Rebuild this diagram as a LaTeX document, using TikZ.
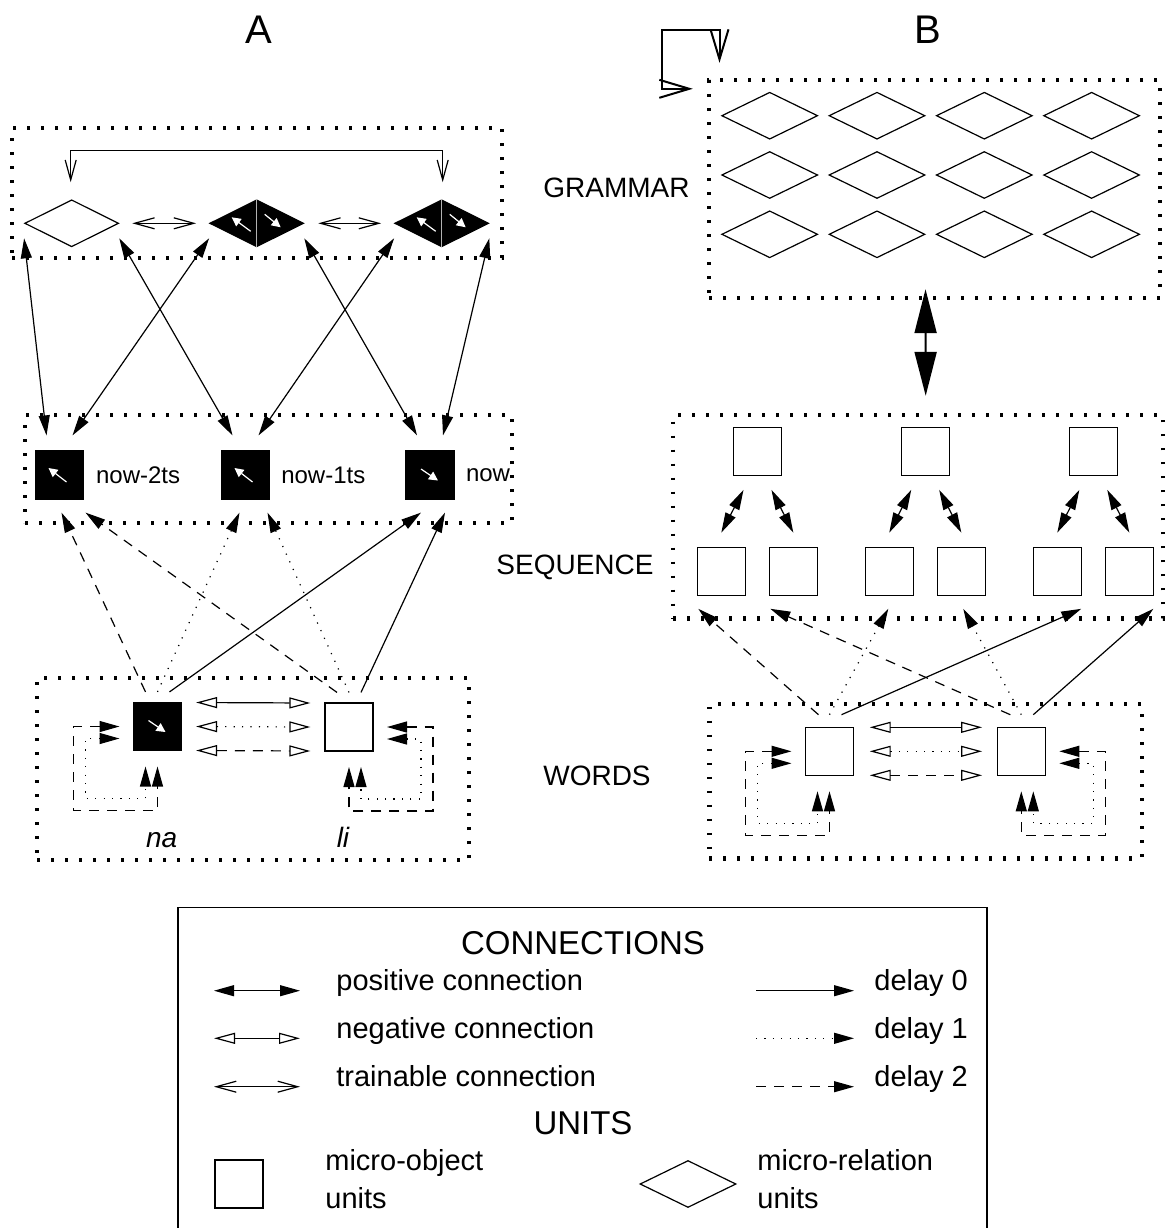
\documentclass[tikz,border=0pt]{standalone}
\usepackage{fontspec}
\setmainfont{Liberation Sans}
\usetikzlibrary{arrows.meta,shapes.geometric,positioning}

\begin{document}
\begin{tikzpicture}
  [x=0.5pt, y=-0.5pt,
   layer/.style={draw, line width=2.2pt, dash pattern=on 1.3pt off 5.7pt, inner sep=0pt},
   obj/.style={rectangle, draw, line width=0.6pt, minimum size=24pt, inner sep=0pt},
   rel/.style={diamond, draw, line width=0.6pt, minimum width=47pt, minimum height=23.5pt, inner sep=0pt},
   lit/.style={fill=black},
   posc/.style={line width=0.6pt, arrows={Triangle[length=10pt,width=5.5pt]-Triangle[length=10pt,width=5.5pt]}},
   bigposc/.style={line width=1pt, arrows={Triangle[length=22pt,width=11pt]-Triangle[length=22pt,width=11pt]}},
   negc/.style={line width=0.6pt, arrows={Triangle[open,length=10.5pt,width=5.5pt]-Triangle[open,length=10.5pt,width=5.5pt]}},
   trainc/.style={line width=0.6pt, arrows={Straight Barb[length=10pt,width=5.5pt]-Straight Barb[length=10pt,width=5.5pt]}},
   fwdc/.style={line width=0.6pt, arrows={-Triangle[length=10pt,width=5.5pt]}},
   dly1/.style={dash pattern=on 0.6pt off 3.6pt},
   dly2/.style={dash pattern=on 5pt off 4pt},
   flipc/.style={draw=white, line width=0.6pt, arrows={-Triangle[length=4.5pt,width=4.5pt]}},
   panel/.style={inner sep=0pt, font=\fontsize{20}{22}\selectfont},
   layername/.style={inner sep=0pt, font=\fontsize{14}{16}\selectfont},
   steplab/.style={inner sep=0pt, font=\fontsize{12}{14}\selectfont},
   wordlab/.style={inner sep=0pt, font=\fontsize{14}{16}\selectfont\itshape},
   leghead/.style={inner sep=0pt, font=\fontsize{16.5}{18}\selectfont},
   legtxt/.style={inner sep=0pt, anchor=base west, font=\fontsize{14.5}{16}\selectfont}]

  \path[use as bounding box, fill=white] (0,0) rectangle (1172,1228);

  % panel A
  \node[panel] (labA) at (258.5,30) {A};
  \node[layer, minimum width=245pt, minimum height=65pt] (gramA) at (257,193) {};
  \node[layer, minimum width=243.5pt, minimum height=54pt] (seqA) at (268.5,469) {};
  \node[layer, minimum width=216pt, minimum height=91pt] (wordsA) at (253,769) {};

  \node[rel] (g1) at (71.7,223.3) {};
  \node[rel, lit] (g2) at (256.7,223.3) {};
  \node[rel, lit] (g3) at (441.7,223.3) {};
  \foreach \g in {g2,g3} {
    \draw[gray!60, line width=0.5pt] (\g.north) -- (\g.south);
    \draw[flipc] ([shift={(-6,8)}]\g.center) -- ([shift={(-25,-6)}]\g.center);
    \draw[flipc] ([shift={(8,-9)}]\g.center) -- ([shift={(24,4)}]\g.center);
  }

  \node[obj, lit] (s1) at (59.5,475) {};
  \node[obj, lit] (s2) at (245.5,475) {};
  \node[obj, lit] (s3) at (430,475) {};
  \node[steplab, right=5.8pt of s1] (s1-lab) {now-2ts};
  \node[steplab, right=5.4pt of s2] (s2-lab) {now-1ts};
  \node[steplab, right=5.5pt of s3] (s3-lab) {now};
  \foreach \s in {s1,s2}
    \draw[flipc] ([shift={(7,7)}]\s.center) -- ([shift={(-11,-7)}]\s.center);
  \draw[flipc] ([shift={(-9,-6)}]s3.center) -- ([shift={(8,5.5)}]s3.center);

  \node[obj, lit] (na) at (157.5,726.5) {};
  \node[obj] (li) at (349,727) {};
  \draw[flipc] ([shift={(-9,-6)}]na.center) -- ([shift={(8,5.5)}]na.center);
  \node[wordlab, anchor=base] (na-lab) at (161.7,847) {na};
  \node[wordlab, anchor=base] (li-lab) at (343,847) {li};

  % grammar A
  \draw[trainc] ([shift={(-1,-17)}]g1.north) |- ([shift={(1,-49)}]g3.north) -- ([shift={(1,-17)}]g3.north);
  \draw[trainc] ([shift={(13,0)}]g1.east) -- ([shift={(-13,0)}]g2.west);
  \draw[trainc] ([shift={(14,0)}]g2.east) -- ([shift={(-13,0)}]g3.west);
  \foreach \g/\ga/\s/\sx in {g1/west/s1/-13, g1/east/s2/-13, g2/west/s1/13,
                             g2/east/s3/-13, g3/west/s2/13, g3/east/s3/13}
    \draw[posc] ([shift={(0,15)}]\g.\ga) -- ([shift={(\sx,-15)}]\s.north);

  % words A
  \foreach \st/\dy in {solid/-24, dly1/0, dly2/24}
    \draw[negc, \st] ([shift={(14,\dy)}]na.east) -- ([shift={(-14,\dy)}]li.west);
  \foreach \st/\dx/\t/\a/\b in {dly2/-12/s1/2/26, dly1/0/s2/-6/22, solid/12/s3/-9/15} {
    \draw[fwdc, \st] ([shift={(\dx,-10)}]na.north) -- ([shift={(\a,13)}]\t.south);
    \draw[fwdc, \st] ([shift={(\dx,-10)}]li.north) -- ([shift={(\b,13)}]\t.south);
  }

  % panel B
  \node[panel] (labB) at (927.5,30) {B};
  \node[layer, minimum width=225.5pt, minimum height=109pt] (gramB) at (934.5,189) {};
  \node[layer, minimum width=245pt, minimum height=101.7pt] (seqB) at (918.2,516.7) {};
  \node[layer, minimum width=216.2pt, minimum height=77.2pt] (wordsB) at (925.5,781.2) {};

  \foreach \c in {1,...,4}
    \foreach \r in {1,2,3}
      \node[rel, minimum width=48pt] (r\r\c) at ({662.4+107.3*\c},{56.4+59.3*\r}) {};
  \draw[line width=1pt, arrows={Straight Barb[length=15pt,width=9pt]-Straight Barb[length=15pt,width=9pt]}]
    ([shift={(-14,11)}]gramB.north west) -| (661.7,30) -| ([shift={(12.7,-15)}]gramB.north west);
  \draw[bigposc] ([shift={(-9,-11)}]gramB.south) -- ([shift={(7.5,-17)}]seqB.north);

  \foreach \i/\x in {1/757.5, 2/925.2, 3/1093.3}
    \node[obj] (t\i) at (\x,451.3) {};
  \foreach \i/\x in {1/721.3, 2/793.3, 3/889.3, 4/961.3, 5/1057.3, 6/1129.3}
    \node[obj] (b\i) at (\x,571.2) {};
  \foreach \tp/\lf/\rt in {t1/b1/b2, t2/b3/b4, t3/b5/b6} {
    \draw[posc] ([shift={(-14,14)}]\tp.south) -- ([shift={(0,-14)}]\lf.north);
    \draw[posc] ([shift={(14,14)}]\tp.south) -- ([shift={(0,-14)}]\rt.north);
  }

  \node[obj] (w1) at (829.5,751.3) {};
  \node[obj] (w2) at (1021.3,751.3) {};
  \foreach \st/\dy in {solid/-24, dly1/0, dly2/24}
    \draw[negc, \st] ([shift={(15.6,\dy)}]w1.east) -- ([shift={(-14.6,\dy)}]w2.west);
  \foreach \st/\dx/\p/\q/\a/\b in {dly2/-11/b1/b2/-23/-23, dly1/0/b3/b4/-1/2, solid/12/b5/b6/24/24} {
    \draw[fwdc, \st] ([shift={(\dx,-12)}]w1.north) -- ([shift={(\a,13)}]\p.south);
    \draw[fwdc, \st] ([shift={(\dx,-12)}]w2.north) -- ([shift={(\b,13)}]\q.south);
  }

  % self loops with delay
  \foreach \u/\s in {na/-1, li/1, w1/-1, w2/1} {
    \draw[posc, dly2] ([shift={(\s*38,0)}]\u.center) -| ([shift={(\s*84,84)}]\u.center) -| ([shift={(0,40)}]\u.center);
    \draw[posc, dly1] ([shift={(\s*38,12)}]\u.center) -| ([shift={(\s*72,72)}]\u.center) -| ([shift={(\s*12,40)}]\u.center);
  }

  % layer names
  \node[layername] (gram-lab) at (616.5,188) {GRAMMAR};
  \node[layername] (seq-lab) at (575,567) {SEQUENCE};
  \node[layername] (words-lab) at (597,776) {WORDS};

  % legend
  \draw[line width=0.8pt] (178,907.3) rectangle (987,1240);
  \node[leghead] (conn) at (583,943.3) {CONNECTIONS};
  \node[legtxt] (lg-pos) at (336,990.7) {positive connection};
  \node[legtxt] (lg-neg) at (336,1038.3) {negative connection};
  \node[legtxt] (lg-train) at (336,1086.7) {trainable connection};
  \draw[posc] ([shift={(-122,0)}]lg-pos.base west) -- ([shift={(-36,0)}]lg-pos.base west);
  \draw[negc] ([shift={(-122,0)}]lg-neg.base west) -- ([shift={(-36,0)}]lg-neg.base west);
  \draw[trainc] ([shift={(-122,0)}]lg-train.base west) -- ([shift={(-36,0)}]lg-train.base west);
  \node[legtxt] (lg-d0) at (874,990.7) {delay 0};
  \node[legtxt] (lg-d1) at (874,1038.3) {delay 1};
  \node[legtxt] (lg-d2) at (874,1086.7) {delay 2};
  \draw[fwdc] ([shift={(-118,0)}]lg-d0.base west) -- ([shift={(-20,0)}]lg-d0.base west);
  \draw[fwdc, dly1] ([shift={(-118,0)}]lg-d1.base west) -- ([shift={(-20,0)}]lg-d1.base west);
  \draw[fwdc, dly2] ([shift={(-118,0)}]lg-d2.base west) -- ([shift={(-20,0)}]lg-d2.base west);
  \node[leghead] (units) at (583,1123.3) {UNITS};
  \node[obj] (lg-obj) at (239,1184) {};
  \node[rel, minimum width=48pt] (lg-rel) at (688,1184) {};
  \node[legtxt] (lg-obj1) at (325,1170) {micro-object};
  \node[legtxt] (lg-obj2) at (325,1208) {units};
  \node[legtxt] (lg-rel1) at (757,1170) {micro-relation};
  \node[legtxt] (lg-rel2) at (757,1208) {units};
\end{tikzpicture}
\end{document}
